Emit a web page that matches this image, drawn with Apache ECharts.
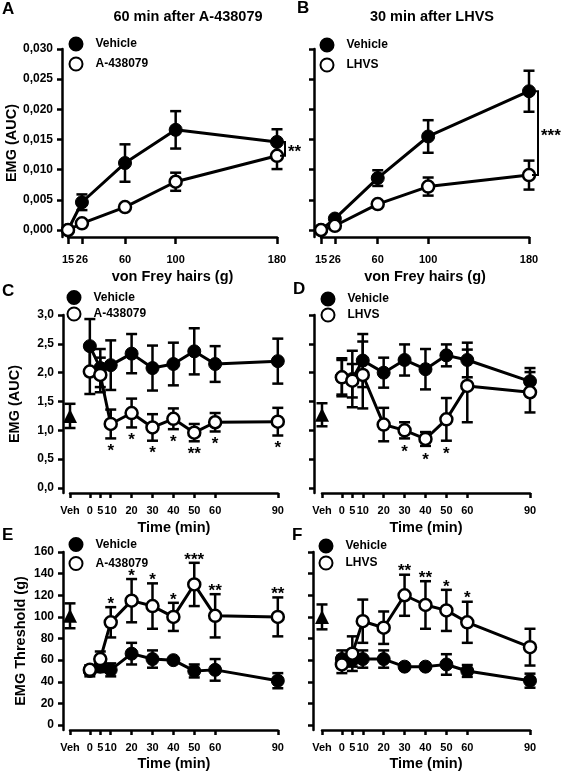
<!DOCTYPE html>
<html><head><meta charset="utf-8">
<script src="https://cdn.jsdelivr.net/npm/echarts@6/dist/echarts.min.js"></script>
<style>html,body{margin:0;padding:0;background:#fff}#c{width:567px;height:771px}</style>
</head><body><div id="c"></div>
<script>
// ---------- DATA ----------
const vfHairs = [15, 26, 60, 100, 180];
const aVeh = [0, 0.0046, 0.0111, 0.0166, 0.0146];
const aVehErr = [0, 0.0013, 0.0031, 0.0031, 0.0021];
const aDrug = [0, 0.0011, 0.0038, 0.0080, 0.0123];
const aDrugErr = [0, 0.0003, 0.0004, 0.0015, 0.0022];
const bVeh = [0, 0.0019, 0.0086, 0.0155, 0.0230];
const bVehErr = [0, 0.0003, 0.0013, 0.0027, 0.0034];
const bDrug = [0, 0.0007, 0.0043, 0.0072, 0.0091];
const bDrugErr = [0, 0.0002, 0.0003, 0.0015, 0.0024];

const times = [0, 5, 10, 20, 30, 40, 50, 60, 90];
const cVeh = [2.46, 2.08, 2.13, 2.33, 2.08, 2.15, 2.37, 2.15, 2.20];
const cVehErr = [0.47, 0.33, 0.43, 0.34, 0.39, 0.37, 0.40, 0.31, 0.39];
const cDrug = [2.02, 1.96, 1.11, 1.30, 1.05, 1.20, 0.96, 1.14, 1.15];
const cDrugErr = [0.39, 0.30, 0.25, 0.25, 0.23, 0.18, 0.15, 0.16, 0.24];
const cBase = [1.25, 0.21];
const cStars = ['', '', '*', '*', '*', '*', '**', '*', '*'];

const dVeh = [1.92, 1.89, 2.21, 2.00, 2.22, 2.06, 2.30, 2.22, 1.85];
const dVehErr = [0.30, 0.49, 0.46, 0.26, 0.27, 0.35, 0.19, 0.30, 0.23];
const dDrug = [1.92, 1.86, 1.96, 1.10, 1.00, 0.85, 1.19, 1.77, 1.66];
const dDrugErr = [0.33, 0.29, 0.58, 0.29, 0.14, 0.12, 0.37, 0.63, 0.35];
const dBase = [1.27, 0.20];
const dStars = ['', '', '', '', '*', '*', '*', '', ''];

const eVeh = [50, 54, 51, 66, 61, 60, 50, 51, 41];
const eVehErr = [5, 5, 6, 10, 8, 2, 6, 10, 7];
const eDrug = [51, 61, 95, 115, 110, 100, 130, 101, 100];
const eDrugErr = [4, 7, 14, 20, 21, 13, 20, 20, 18];
const eBase = [101, 11.5];
const eStars = ['', '', '*', '*', '*', '*', '***', '**', '**'];

const fVeh = [61, 60, 61, 61, 54, 54, 56, 50, 41];
const fVehErr = [8, 6, 8, 8, 3, 3, 9.5, 5.5, 6.5];
const fDrug = [56, 66, 96, 90, 120, 111, 106, 95, 72];
const fDrugErr = [8, 16, 20, 15, 19, 22, 19, 19, 17];
const fBase = [100, 11.5];
const fStars = ['', '', '', '', '**', '**', '*', '*', ''];

const aucTicks = [0, 0.005, 0.010, 0.015, 0.020, 0.025, 0.030];
const emgTicks = [0, 0.5, 1.0, 1.5, 2.0, 2.5, 3.0];
const thrTicks = [0, 20, 40, 60, 80, 100, 120, 140, 160];
const VEH_X = -9.5;
const timeTicks = [VEH_X].concat(times);

// ---------- STYLE / LAYOUT ----------
const FONT = "'Liberation Sans', Arial, sans-serif";
const BLACK = '#000';

function errRender(capHalf) {
  return function (params, api) {
    const x = api.value(0), y = api.value(1), e = api.value(2);
    if (!e) return { type: 'group', children: [] };
    const t = api.coord([x, y + e]), b = api.coord([x, y - e]);
    const st = { stroke: BLACK, lineWidth: 2.5 };
    return { type: 'group', children: [
      { type: 'line', shape: { x1: t[0], y1: t[1], x2: b[0], y2: b[1] }, style: st },
      { type: 'line', shape: { x1: t[0] - capHalf, y1: t[1], x2: t[0] + capHalf, y2: t[1] }, style: st },
      { type: 'line', shape: { x1: b[0] - capHalf, y1: b[1], x2: b[0] + capHalf, y2: b[1] }, style: st }
    ] };
  };
}
function starRender(stars, below, off) {
  return function (params, api) {
    const s = stars[params.dataIndex];
    const p = api.coord([api.value(0), api.value(1)]);
    return { type: 'text', x: p[0], y: p[1] + (below ? off : -off),
      style: { text: s, fill: BLACK, fontSize: 17, fontWeight: 'bold', fontFamily: FONT,
        align: 'center', verticalAlign: 'middle' } };
  };
}
function bracketRender(text, dx) {
  return function (params, api) {
    const a = api.coord([api.value(0), api.value(1)]);
    const b = api.coord([api.value(0), api.value(2)]);
    const x = a[0] + dx;
    return { type: 'group', children: [
      { type: 'polyline', shape: { points: [[a[0] + 3, a[1]], [x, a[1]], [x, b[1]], [a[0] + 3, b[1]]] },
        style: { stroke: BLACK, lineWidth: 2, fill: null } },
      { type: 'text', x: x + 3, y: (a[1] + b[1]) / 2 + 3,
        style: { text: text, fill: BLACK, fontSize: 17, fontWeight: 'bold', fontFamily: FONT,
          align: 'left', verticalAlign: 'middle' } }
    ] };
  };
}

const panels = [
  { id: 'A', grid: { left: 68, top: 49, width: 209, height: 188 }, yOff: 6,
    x: vfHairs, xMin: 15, xMax: 180, xTicks: vfHairs, xFmt: v => String(v), xName: 'von Frey hairs (g)',
    xTickLen: 7, xMargin: 17, xNameGap: 32,
    yMin: -0.00116, yMax: 0.030, yTicks: aucTicks, yFmt: v => v.toFixed(3).replace('.', ','), yName: 'EMG (AUC)',
    veh: aVeh, vehErr: aVehErr, drug: aDrug, drugErr: aDrugErr, drugName: 'A-438079',
    legend: { left: 68.5, top: 36.5, gap: 5 }, bracket: '**', bracketDx: 8 },
  { id: 'B', grid: { left: 321, top: 49, width: 208, height: 188 }, yOff: 7,
    x: vfHairs, xMin: 15, xMax: 180, xTicks: vfHairs, xFmt: v => String(v), xName: 'von Frey hairs (g)',
    xTickLen: 7, xMargin: 17, xNameGap: 32,
    yMin: -0.00116, yMax: 0.030, yTicks: aucTicks, yFmt: null, yName: '',
    veh: bVeh, vehErr: bVehErr, drug: bDrug, drugErr: bDrugErr, drugName: 'LHVS',
    legend: { left: 319.5, top: 37.5, gap: 5 }, bracket: '***', bracketDx: 9 },
  { id: 'C', grid: { left: 70, top: 315, width: 207.8, height: 178 }, yOff: 7,
    x: times, xMin: VEH_X, xMax: 90, xTicks: timeTicks, xFmt: v => v === VEH_X ? 'Veh' : String(v), xName: 'Time (min)',
    xTickLen: 5, xMargin: 12, xNameGap: 27,
    yMin: -0.087, yMax: 3.0, yTicks: emgTicks, yFmt: v => v.toFixed(1).replace('.', ','), yName: 'EMG (AUC)',
    veh: cVeh, vehErr: cVehErr, drug: cDrug, drugErr: cDrugErr, drugName: 'A-438079',
    base: cBase, stars: cStars, starsBelow: true, starOff: 13,
    legend: { left: 66.5, top: 290, gap: 1.5 } },
  { id: 'D', grid: { left: 322, top: 315, width: 208, height: 178 }, yOff: 8,
    x: times, xMin: VEH_X, xMax: 90, xTicks: timeTicks, xFmt: v => v === VEH_X ? 'Veh' : String(v), xName: 'Time (min)',
    xTickLen: 5, xMargin: 12, xNameGap: 27,
    yMin: -0.087, yMax: 3.0, yTicks: emgTicks, yFmt: null, yName: '',
    veh: dVeh, vehErr: dVehErr, drug: dDrug, drugErr: dDrugErr, drugName: 'LHVS',
    base: dBase, stars: dStars, starsBelow: true, starOff: 14,
    legend: { left: 320.5, top: 291.5, gap: 1 } },
  { id: 'E', grid: { left: 70, top: 552, width: 207.8, height: 178 }, yOff: 7,
    x: times, xMin: VEH_X, xMax: 90, xTicks: timeTicks, xFmt: v => v === VEH_X ? 'Veh' : String(v), xName: 'Time (min)',
    xTickLen: 5, xMargin: 12, xNameGap: 26,
    yMin: -4.6, yMax: 160, yTicks: thrTicks, yFmt: v => String(v), yName: 'EMG Threshold (g)',
    veh: eVeh, vehErr: eVehErr, drug: eDrug, drugErr: eDrugErr, drugName: 'A-438079',
    base: eBase, stars: eStars, starsBelow: false, starOff: 3,
    legend: { left: 68.5, top: 537, gap: 4 } },
  { id: 'F', grid: { left: 322, top: 552, width: 208, height: 178 }, yOff: 9,
    x: times, xMin: VEH_X, xMax: 90, xTicks: timeTicks, xFmt: v => v === VEH_X ? 'Veh' : String(v), xName: 'Time (min)',
    xTickLen: 5, xMargin: 12, xNameGap: 26,
    yMin: -4.6, yMax: 160, yTicks: thrTicks, yFmt: null, yName: '',
    veh: fVeh, vehErr: fVehErr, drug: fDrug, drugErr: fDrugErr, drugName: 'LHVS',
    base: fBase, stars: fStars, starsBelow: false, starOff: 3,
    legend: { left: 318.5, top: 538.5, gap: 2 } }
];

const textBase = { color: BLACK, fontFamily: FONT, fontWeight: 'bold' };
const grids = [], xAxes = [], yAxes = [], series = [], legends = [];

panels.forEach((p, i) => {
  grids.push(Object.assign({ outerBoundsMode: 'none', containLabel: false }, p.grid));
  xAxes.push({
    type: 'value', gridIndex: i, min: p.xMin, max: p.xMax,
    axisLine: { show: true, onZero: false, lineStyle: { color: BLACK, width: 2.5 } },
    axisTick: { show: true, customValues: p.xTicks, length: p.xTickLen, lineStyle: { color: BLACK, width: 2.5 } },
    axisLabel: Object.assign({ show: true, customValues: p.xTicks, formatter: p.xFmt, fontSize: 11, margin: p.xMargin }, textBase),
    splitLine: { show: false },
    name: p.xName, nameLocation: 'middle', nameGap: p.xNameGap,
    nameTextStyle: Object.assign({ fontSize: 14.5 }, textBase)
  });
  yAxes.push({
    type: 'value', gridIndex: i, min: p.yMin, max: p.yMax, offset: p.yOff,
    axisLine: { show: true, onZero: false, lineStyle: { color: BLACK, width: 2.5 } },
    axisTick: { show: true, customValues: p.yTicks, length: 5, lineStyle: { color: BLACK, width: 2.5 } },
    axisLabel: Object.assign({ show: !!p.yFmt, customValues: p.yTicks, formatter: p.yFmt || (v => ''), fontSize: 12, margin: 9 }, textBase),
    splitLine: { show: false },
    name: p.yName, nameLocation: 'middle', nameGap: p.yName.indexOf('Threshold') >= 0 ? 35 : 41,
    nameTextStyle: Object.assign({ fontSize: 14.5 }, textBase)
  });
  const ax = { xAxisIndex: i, yAxisIndex: i };
  series.push(Object.assign({ type: 'custom', name: 'vehErr' + p.id, renderItem: errRender(5.5), clip: false, z: 2,
    encode: { x: 0, y: 1 }, data: p.x.map((x, j) => [x, p.veh[j], p.vehErr[j]]) }, ax));
  series.push(Object.assign({ type: 'line', name: 'Vehicle', z: 3, symbol: 'circle', symbolSize: 13, showAllSymbol: true,
    clip: false, lineStyle: { color: BLACK, width: 3 }, itemStyle: { color: BLACK, borderColor: BLACK, borderWidth: 1 },
    emphasis: { disabled: true }, data: p.x.map((x, j) => [x, p.veh[j]]) }, ax));
  series.push(Object.assign({ type: 'custom', name: 'drugErr' + p.id, renderItem: errRender(5.5), clip: false, z: 4,
    encode: { x: 0, y: 1 }, data: p.x.map((x, j) => [x, p.drug[j], p.drugErr[j]]) }, ax));
  series.push(Object.assign({ type: 'line', name: p.drugName, z: 5, symbol: 'circle', symbolSize: 12, showAllSymbol: true,
    clip: false, lineStyle: { color: BLACK, width: 3 }, itemStyle: { color: '#fff', borderColor: BLACK, borderWidth: 2.5 },
    emphasis: { disabled: true }, data: p.x.map((x, j) => [x, p.drug[j]]) }, ax));
  if (p.base) {
    series.push(Object.assign({ type: 'custom', name: 'baseErr' + p.id, renderItem: errRender(5.5), clip: false, z: 2,
      encode: { x: 0, y: 1 }, data: [[VEH_X, p.base[0], p.base[1]]] }, ax));
    series.push(Object.assign({ type: 'scatter', name: 'Veh' + p.id, z: 3, symbol: 'triangle', symbolSize: 14,
      itemStyle: { color: BLACK, opacity: 1 }, emphasis: { disabled: true }, data: [[VEH_X, p.base[0]]] }, ax));
    series.push(Object.assign({ type: 'custom', name: 'stars' + p.id, renderItem: starRender(p.stars, p.starsBelow, p.starOff),
      clip: false, z: 6, encode: { x: 0, y: 1 },
      data: p.x.map((x, j) => [x, p.starsBelow ? p.drug[j] - p.drugErr[j] : p.drug[j] + p.drugErr[j]]) }, ax));
  }
  if (p.bracket) {
    const k = p.x.length - 1;
    series.push(Object.assign({ type: 'custom', name: 'bracket' + p.id, renderItem: bracketRender(p.bracket, p.bracketDx),
      clip: false, z: 6, encode: { x: 0, y: [1, 2] }, data: [[p.x[k], p.veh[k], p.drug[k]]] }, ax));
  }
  legends.push({
    orient: 'vertical', left: p.legend.left, top: p.legend.top, itemGap: p.legend.gap,
    itemWidth: 13, itemHeight: 13, icon: 'circle', selectedMode: false, padding: 0,
    data: ['Vehicle', p.drugName],
    textStyle: Object.assign({ fontSize: 12, padding: [0, 0, 0, 8] }, textBase)
  });
});

const titles = [
  { text: 'A', left: 2, top: 1 }, { text: 'B', left: 297, top: 0 },
  { text: 'C', left: 2, top: 283 }, { text: 'D', left: 293, top: 281 },
  { text: 'E', left: 2, top: 527 }, { text: 'F', left: 292, top: 527 }
].map(t => Object.assign({ padding: 0, textStyle: Object.assign({ fontSize: 17 }, textBase) }, t));
titles.push({ text: '60 min after A-438079', left: 188, top: 9, textAlign: 'center', padding: 0,
  textStyle: Object.assign({ fontSize: 14.5 }, textBase) });
titles.push({ text: '30 min after LHVS', left: 432, top: 9, textAlign: 'center', padding: 0,
  textStyle: Object.assign({ fontSize: 14.5 }, textBase) });

const chart = echarts.init(document.getElementById('c'));
chart.setOption({
  animation: false,
  backgroundColor: '#fff',
  title: titles,
  legend: legends,
  grid: grids,
  xAxis: xAxes,
  yAxis: yAxes,
  series: series
});
</script></body></html>
